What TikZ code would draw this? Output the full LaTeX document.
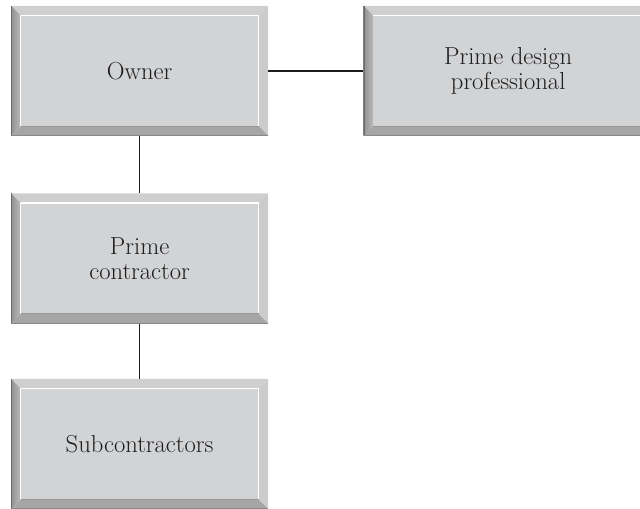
\documentclass[tikz,border=0pt]{standalone}
\usetikzlibrary{positioning, calc}

\definecolor{boxface}{HTML}{D2D3D5}
\definecolor{bevtop}{HTML}{CFCFCF}
\definecolor{bevright}{HTML}{CBCBCB}
\definecolor{bevbottom}{HTML}{A6A6A6}
\definecolor{bevleft}{HTML}{BABABA}
\definecolor{bevedge}{HTML}{6A6A6A}
\definecolor{boxtext}{HTML}{1E1E1E}
\definecolor{linkcol}{HTML}{1C1C1C}

\def\bevw{0.24cm}

\tikzset{
  orgbox/.style={minimum width=6.425cm, minimum height=3.25cm, inner sep=0pt,
    align=center, font=\fontsize{17.5}{18}\selectfont, text=boxtext,
    path picture={
      \path (path picture bounding box.south west) coordinate (sw)
            (path picture bounding box.north east) coordinate (ne);
      \fill[bevtop] (sw |- ne) -- (ne) -- ($(ne)+(-\bevw,-\bevw)$)
        -- ($(sw |- ne)+(\bevw,-\bevw)$) -- cycle;
      \fill[bevright] (ne) -- (ne |- sw) -- ($(ne |- sw)+(-\bevw,\bevw)$)
        -- ($(ne)+(-\bevw,-\bevw)$) -- cycle;
      \fill[bevbottom] (sw) -- (ne |- sw) -- ($(ne |- sw)+(-\bevw,\bevw)$)
        -- ($(sw)+(\bevw,\bevw)$) -- cycle;
      \shade[left color=bevedge!50!bevleft, right color=bevleft]
        (sw) -- (sw |- ne) -- ($(sw |- ne)+(\bevw,-\bevw)$)
        -- ($(sw)+(\bevw,\bevw)$) -- cycle;
      \fill[boxface] ($(sw)+(\bevw,\bevw)$) rectangle ($(ne)+(-\bevw,-\bevw)$);
      \draw[white, line width=0.8pt] ($(sw |- ne)+(\bevw,-\bevw)$)
        -- ($(ne)+(-\bevw,-\bevw)$) -- ($(ne |- sw)+(-\bevw,\bevw)$);
      \draw[bevedge!70, line width=0.6pt] ($(sw)+(\bevw,\bevw)$)
        -- ($(ne |- sw)+(-\bevw,\bevw)$);
      \draw[bevedge, line width=1.4pt] (sw) -- (sw |- ne);
      \draw[bevedge!80, line width=1pt] (sw) -- (ne |- sw);
    }},
  link/.style={draw=linkcol, line width=1.1pt}
}

\begin{document}
\begin{tikzpicture}
\useasboundingbox (0,0) rectangle (16,12.7);
\clip (0,0) rectangle (16,12.7);

\node[orgbox] (owner) at (3.49,10.93) {Owner};
\node[orgbox, minimum width=7.225cm, right=2.375cm of owner] (design) {Prime design\\professional};
\node[orgbox, below=1.425cm of owner] (contractor) {Prime\\contractor};
\node[orgbox, below=1.375cm of contractor] (subs) {Subcontractors};

\draw[link] (owner) -- (design);
\draw[link] (owner) -- (contractor);
\draw[link] (contractor) -- (subs);
\end{tikzpicture}
\end{document}
